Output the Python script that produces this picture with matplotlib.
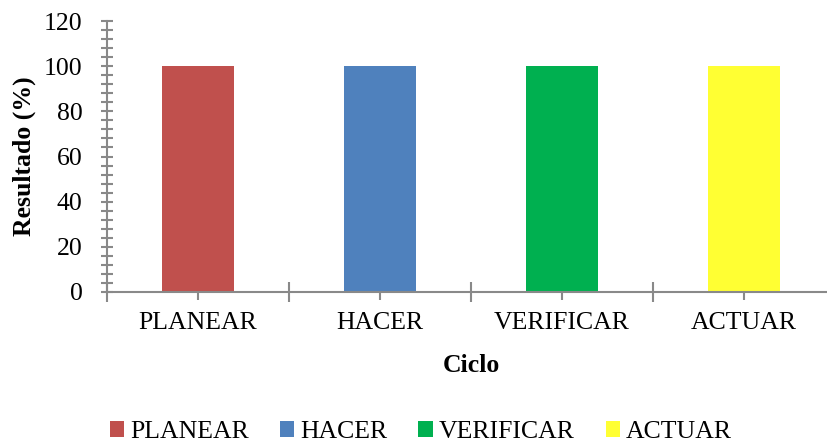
import numpy as np
import matplotlib.pyplot as plt
from matplotlib.ticker import MultipleLocator, FixedLocator

categorias = ["PLANEAR", "HACER", "VERIFICAR", "ACTUAR"]
resultado = [100, 100, 100, 100]
colores = ["#C0504D", "#4F81BD", "#00B050", "#FFFF33"]

plt.rcParams["font.family"] = ["Liberation Serif", "DejaVu Serif"]
gris = "#898989"

fig = plt.figure(figsize=(8.27, 4.42), dpi=100)
ax = fig.add_axes([107 / 827, 1 - 292 / 442, 728 / 827, 271 / 442])

x = np.arange(len(categorias))
bars = ax.bar(x, resultado, width=0.4, color=colores, label=categorias, zorder=2)

ax.set_xlim(-0.5, 3.5)
ax.set_ylim(0, 120)
ax.yaxis.set_major_locator(MultipleLocator(20))
ax.yaxis.set_minor_locator(MultipleLocator(4))
ax.set_xticks(x)
ax.set_xticklabels(categorias)
ax.xaxis.set_minor_locator(FixedLocator([-0.5, 0.5, 1.5, 2.5, 3.5]))

for s in ["top", "right"]:
    ax.spines[s].set_visible(False)
for s in ["left", "bottom"]:
    ax.spines[s].set_color(gris)
    ax.spines[s].set_linewidth(1.5)

ax.tick_params(axis="y", which="both", direction="inout", length=9, width=1.5,
               color=gris, labelsize=18.5, pad=13)
ax.tick_params(axis="x", which="major", direction="inout", length=11, width=1.5,
               color=gris, labelsize=18.5, pad=9)
ax.tick_params(axis="x", which="minor", direction="inout", length=15, width=1.5,
               color=gris)

ax.set_ylabel("Resultado (%)", fontsize=18.5, fontweight="bold", labelpad=6)
ax.set_xlabel("Ciclo", fontsize=18.5, fontweight="bold", labelpad=14)

fig.legend(bars, categorias, loc="center", bbox_to_anchor=(421 / 827, 1 - 432 / 442),
           ncol=4, frameon=False, fontsize=18.5, handlelength=0.55, handleheight=0.55,
           handletextpad=0.25, columnspacing=1.2, borderpad=0, borderaxespad=0)

fig.savefig("out.png", dpi=100)
